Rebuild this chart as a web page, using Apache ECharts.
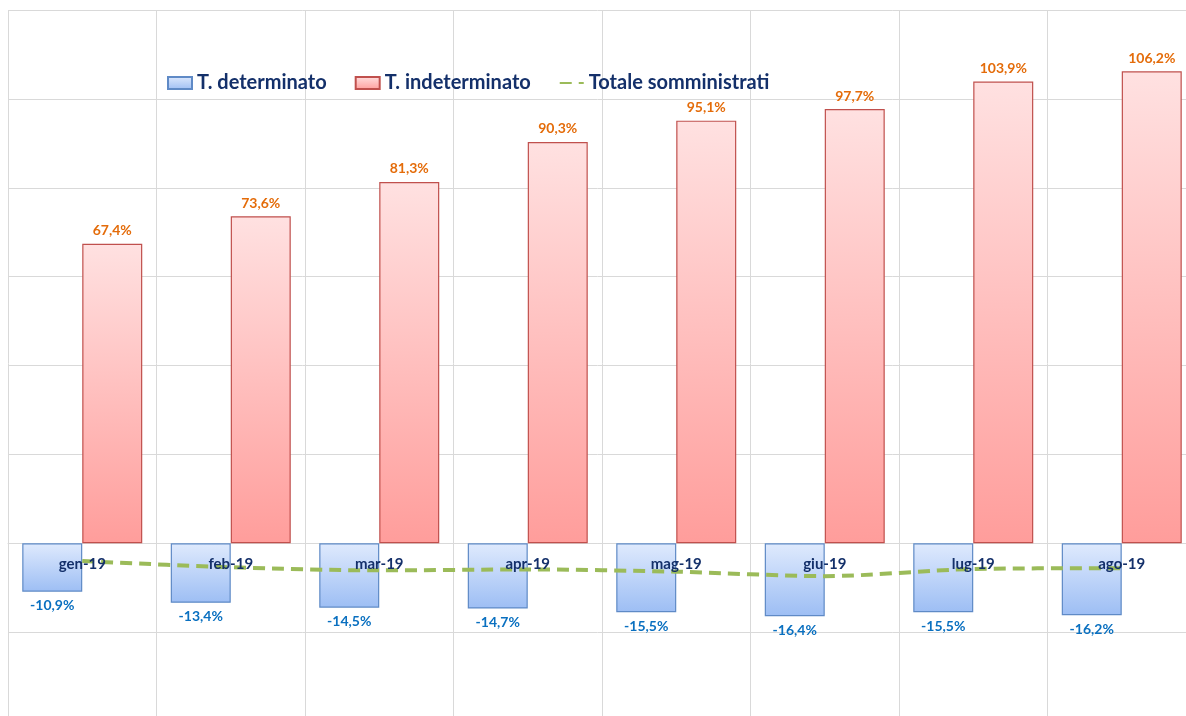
<!DOCTYPE html>
<html>
<head>
<meta charset="utf-8">
<script src="https://cdn.jsdelivr.net/npm/echarts@6/dist/echarts.min.js"></script>
<style>
  html, body { margin: 0; padding: 0; background: #fff; }
  #chart { width: 1186px; height: 716px; }
</style>
</head>
<body>
<div id="chart"></div>
<script>
  // dati
  const months = ['gen-19', 'feb-19', 'mar-19', 'apr-19', 'mag-19', 'giu-19', 'lug-19', 'ago-19']
  const determinato = [-10.9, -13.4, -14.5, -14.7, -15.5, -16.4, -15.5, -16.2]
  const indeterminato = [67.4, 73.6, 81.3, 90.3, 95.1, 97.7, 103.9, 106.2]
  const somministrati = [-4.0, -5.4, -6.1, -5.9, -6.4, -7.4, -5.8, -5.6]

  const fontFamily = 'Lato, "Open Sans", sans-serif'
  const navy = '#14306a'
  const pct = v => v.toFixed(1).replace('.', ',') + '%'

  const chart = echarts.init(document.getElementById('chart'))
  chart.setOption({
    animation: false,
    textStyle: { fontFamily },
    legend: {
      left: 162,
      top: 68,
      itemWidth: 24,
      itemHeight: 12,
      itemGap: 28,
      textStyle: { fontSize: 20, fontWeight: 'bold', color: navy, fontFamily },
      data: [
        { name: 'T. determinato', icon: 'rect' },
        { name: 'T. indeterminato', icon: 'rect' },
        { name: 'Totale somministrati', itemStyle: { opacity: 0 } }
      ]
    },
    grid: {
      left: 8,
      right: -10,
      top: 10,
      bottom: -5,
      containLabel: false,
      outerBoundsMode: 'none'
    },
    xAxis: {
      type: 'category',
      data: months,
      axisLine: { show: true, onZero: true, lineStyle: { color: '#d9d9d9' } },
      axisTick: { show: false },
      axisLabel: { show: false },
      splitLine: { show: true, lineStyle: { color: '#d9d9d9' } }
    },
    yAxis: {
      type: 'value',
      min: -40,
      max: 120,
      interval: 20,
      axisLabel: { show: false },
      axisLine: { show: false },
      axisTick: { show: false },
      splitLine: { lineStyle: { color: '#d9d9d9' } }
    },
    series: [
      {
        name: 'T. determinato',
        type: 'bar',
        barWidth: 60,
        barGap: '0%',
        data: determinato,
        itemStyle: {
          color: new echarts.graphic.LinearGradient(0, 0, 0, 1, [
            { offset: 0, color: '#dfeafd' },
            { offset: 1, color: '#9dbef4' }
          ]),
          borderColor: '#5f8ac6',
          borderWidth: 1.2
        },
        label: {
          show: true,
          position: 'bottom',
          distance: 7,
          fontSize: 14,
          fontWeight: 'bold',
          color: '#0a70c0',
          fontFamily,
          formatter: p => pct(p.value)
        }
      },
      {
        name: 'T. indeterminato',
        type: 'bar',
        barWidth: 60,
        data: indeterminato,
        itemStyle: {
          color: new echarts.graphic.LinearGradient(0, 0, 0, 1, [
            { offset: 0, color: '#ffe1e1' },
            { offset: 1, color: '#ff9d9b' }
          ]),
          borderColor: '#c0504d',
          borderWidth: 1.2
        },
        label: {
          show: true,
          position: 'top',
          distance: 6,
          fontSize: 14,
          fontWeight: 'bold',
          color: '#e46c0a',
          fontFamily,
          formatter: p => pct(p.value)
        }
      },
      {
        name: 'Totale somministrati',
        type: 'line',
        data: somministrati,
        smooth: 0.3,
        symbol: 'none',
        z: 3,
        itemStyle: { color: '#9bbb59' },
        lineStyle: { color: '#9bbb59', width: 4, type: [12, 7] }
      },
      {
        // etichette dei mesi sulla linea dello zero
        name: 'mesi',
        type: 'scatter',
        data: months.map(m => [m, 0]),
        symbolSize: 0,
        silent: true,
        z: 5,
        label: {
          show: true,
          position: 'inside',
          offset: [0, 21],
          fontSize: 15,
          fontWeight: 'bold',
          color: navy,
          textBorderWidth: 0,
          opacity: 1,
          fontFamily,
          formatter: p => p.value[0]
        }
      }
    ]
  })
</script>
</body>
</html>
